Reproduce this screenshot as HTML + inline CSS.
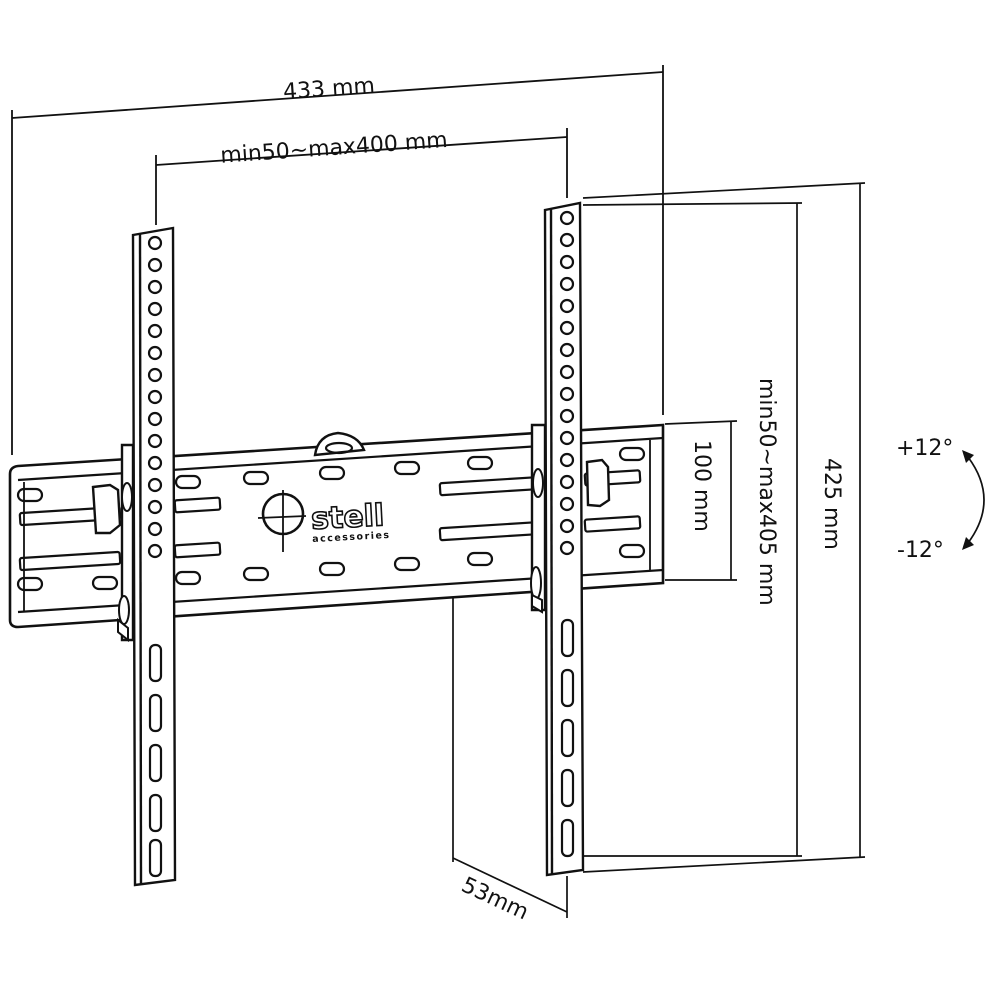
<!DOCTYPE html>
<html><head><meta charset="utf-8"><style>
html,body{margin:0;padding:0;background:#fff}
svg{display:block}
text{font-family:"DejaVu Sans","Liberation Sans",sans-serif;fill:#111}
</style></head><body>
<svg width="1000" height="1000" viewBox="0 0 1000 1000" xmlns="http://www.w3.org/2000/svg">
<g fill="none" stroke="#111" stroke-width="1.8">
<line x1="12" y1="110" x2="12" y2="455"/>
<line x1="663" y1="65" x2="663" y2="415"/>
<line x1="12" y1="118" x2="663" y2="72"/>
<line x1="156" y1="155" x2="156" y2="225"/>
<line x1="567" y1="128" x2="567" y2="198"/>
<line x1="156" y1="165" x2="567" y2="137"/>
<path d="M18 466 L663 425 L663 583 L18 627 Q10 627 10 620 L10 474 Q10 467 18 466 Z" stroke-width="2.6"/>
<line x1="18" y1="480" x2="663" y2="438" stroke-width="2.2"/>
<line x1="18" y1="612" x2="663" y2="570" stroke-width="2.2"/>
<line x1="24" y1="482" x2="24" y2="612"/>
<line x1="650" y1="440" x2="650" y2="570"/>
<g stroke-width="2.2">
<rect x="20" y="510" width="100" height="12" rx="2" transform="rotate(-3.6 70 516)"/>
<rect x="20" y="555" width="100" height="12" rx="2" transform="rotate(-3.6 70 561)"/>
<rect x="175" y="499" width="45" height="12" rx="2" transform="rotate(-3.6 197 505)"/>
<rect x="175" y="544" width="45" height="12" rx="2" transform="rotate(-3.6 197 550)"/>
<rect x="440" y="480" width="105" height="12" rx="2" transform="rotate(-3.6 492 486)"/>
<rect x="440" y="525" width="105" height="12" rx="2" transform="rotate(-3.6 492 531)"/>
<rect x="585" y="472" width="55" height="12" rx="2" transform="rotate(-3.6 612 478)"/>
<rect x="585" y="518" width="55" height="12" rx="2" transform="rotate(-3.6 612 524)"/>
<rect x="18" y="489" width="24" height="12" rx="6"/>
<rect x="18" y="578" width="24" height="12" rx="6"/>
<rect x="93" y="577" width="24" height="12" rx="6"/>
<rect x="176" y="476" width="24" height="12" rx="6"/>
<rect x="176" y="572" width="24" height="12" rx="6"/>
<rect x="244" y="472" width="24" height="12" rx="6"/>
<rect x="244" y="568" width="24" height="12" rx="6"/>
<rect x="320" y="467" width="24" height="12" rx="6"/>
<rect x="320" y="563" width="24" height="12" rx="6"/>
<rect x="395" y="462" width="24" height="12" rx="6"/>
<rect x="395" y="558" width="24" height="12" rx="6"/>
<rect x="468" y="457" width="24" height="12" rx="6"/>
<rect x="468" y="553" width="24" height="12" rx="6"/>
<rect x="620" y="448" width="24" height="12" rx="6"/>
<rect x="620" y="545" width="24" height="12" rx="6"/>
</g>
<path d="M315 455 Q318 435 338 433 Q358 435 364 450 Z" fill="#fff" stroke-width="2.4"/>
<ellipse cx="339" cy="448" rx="13" ry="5" stroke-width="2.2"/>
<circle cx="283" cy="514" r="20" stroke-width="2.6"/>
<line x1="283" y1="490" x2="283" y2="552"/>
<line x1="258" y1="518" x2="306" y2="516"/>
</g>
<text x="311" y="527" font-size="30" font-weight="bold" stroke="#111" stroke-width="1.6" style="fill:#fff" transform="rotate(-3 350 515)">stell</text>
<text x="312" y="540" font-size="9.5" font-weight="bold" letter-spacing="1.5" transform="rotate(-3 350 535)">accessories</text>

<g fill="#fff" stroke="#111" stroke-width="2.4">
<path d="M93 487 L110 485 L118 490 L120 525 L110 533 L96 533 Z"/>
<path d="M587 462 L602 460 L608 467 L609 500 L600 506 L588 505 Z"/>
<path d="M122 445 L133 445 L133 640 L122 640 Z"/>
<path d="M133 235 L173 228 L175 880 L135 885 Z"/>
<line x1="140" y1="234" x2="141" y2="884"/>
<path d="M532 425 L545 425 L545 610 L532 610 Z"/>
<path d="M545 210 L580 203 L583 870 L547 875 Z"/>
<line x1="551" y1="209" x2="552" y2="874"/>
</g>
<g fill="#fff" stroke="#111" stroke-width="2">
<ellipse cx="127" cy="497" rx="5" ry="14"/>
<ellipse cx="124" cy="610" rx="5" ry="14"/>
<path d="M118 620 L128 628 L128 640 L118 632 Z"/>
<ellipse cx="538" cy="483" rx="5" ry="14"/>
<ellipse cx="536" cy="583" rx="5" ry="16"/>
<path d="M532 595 L542 600 L542 612 L532 606 Z"/>
</g>
<g fill="none" stroke="#111" stroke-width="2.2">
<circle cx="155" cy="243" r="6"/><circle cx="155" cy="265" r="6"/><circle cx="155" cy="287" r="6"/><circle cx="155" cy="309" r="6"/><circle cx="155" cy="331" r="6"/><circle cx="155" cy="353" r="6"/><circle cx="155" cy="375" r="6"/><circle cx="155" cy="397" r="6"/><circle cx="155" cy="419" r="6"/><circle cx="155" cy="441" r="6"/><circle cx="155" cy="463" r="6"/><circle cx="155" cy="485" r="6"/><circle cx="155" cy="507" r="6"/><circle cx="155" cy="529" r="6"/><circle cx="155" cy="551" r="6"/>
<circle cx="567" cy="218" r="6"/><circle cx="567" cy="240" r="6"/><circle cx="567" cy="262" r="6"/><circle cx="567" cy="284" r="6"/><circle cx="567" cy="306" r="6"/><circle cx="567" cy="328" r="6"/><circle cx="567" cy="350" r="6"/><circle cx="567" cy="372" r="6"/><circle cx="567" cy="394" r="6"/><circle cx="567" cy="416" r="6"/><circle cx="567" cy="438" r="6"/><circle cx="567" cy="460" r="6"/><circle cx="567" cy="482" r="6"/><circle cx="567" cy="504" r="6"/><circle cx="567" cy="526" r="6"/><circle cx="567" cy="548" r="6"/>
<rect x="150" y="645" width="11" height="36" rx="5"/><rect x="150" y="695" width="11" height="36" rx="5"/><rect x="150" y="745" width="11" height="36" rx="5"/><rect x="150" y="795" width="11" height="36" rx="5"/><rect x="150" y="840" width="11" height="36" rx="5"/>
<rect x="562" y="620" width="11" height="36" rx="5"/><rect x="562" y="670" width="11" height="36" rx="5"/><rect x="562" y="720" width="11" height="36" rx="5"/><rect x="562" y="770" width="11" height="36" rx="5"/><rect x="562" y="820" width="11" height="36" rx="5"/>
</g>
<g fill="none" stroke="#111" stroke-width="1.7">
<line x1="665" y1="424" x2="737" y2="421"/>
<line x1="665" y1="580" x2="737" y2="580"/>
<line x1="731" y1="421" x2="731" y2="580"/>
<line x1="583" y1="205" x2="802" y2="203"/>
<line x1="583" y1="856" x2="802" y2="856"/>
<line x1="797" y1="203" x2="797" y2="856"/>
<line x1="583" y1="198" x2="865" y2="183"/>
<line x1="583" y1="872" x2="865" y2="857"/>
<line x1="860" y1="183" x2="860" y2="857"/>
<line x1="453" y1="598" x2="453" y2="862"/>
<line x1="567" y1="876" x2="567" y2="918"/>
<line x1="453" y1="858" x2="567" y2="912"/>
<path d="M968 457 Q1000 500 968 543"/>
</g>
<path d="M962 450 L974 455 L966 463 Z" fill="#111"/>
<path d="M962 550 L974 545 L966 537 Z" fill="#111"/>
<g font-size="22">
<text x="283" y="95" transform="rotate(-4 340 88)">433 mm</text>
<text x="220" y="153" transform="rotate(-4 360 145)">min50~max400 mm</text>
<text x="0" y="0" transform="translate(695 440) rotate(90)">100 mm</text>
<text x="0" y="0" transform="translate(760 378) rotate(90)">min50~max405 mm</text>
<text x="0" y="0" transform="translate(825 458) rotate(90)">425 mm</text>
<text x="0" y="0" transform="translate(460 890) rotate(25)">53mm</text>
<text x="896" y="455">+12°</text>
<text x="897" y="557">-12°</text>
</g>
</svg>
</body></html>
